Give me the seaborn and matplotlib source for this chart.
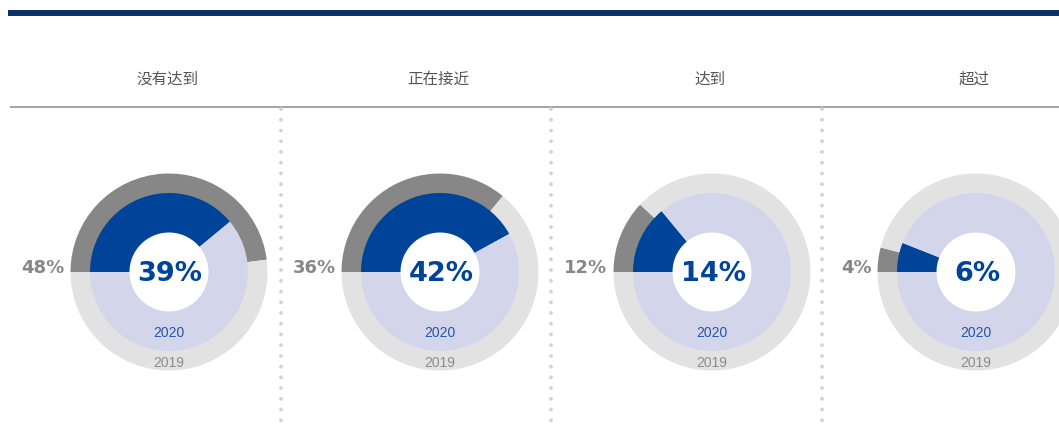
import matplotlib
matplotlib.use("Agg")
import matplotlib.pyplot as plt
import seaborn as sns

# data
categories = ["没有达到", "正在接近", "达到", "超过"]
share_2019 = [48, 36, 12, 4]
share_2020 = [39, 42, 14, 6]
year_labels = ["2019", "2020"]

# colours
NAVY = "#0b3068"
DARK_GRAY = "#878787"
LIGHT_GRAY = "#e2e2e2"
BLUE = "#00449a"
LAVENDER = "#d3d6ea"

W, H = 1059, 431
centers_x = [169, 440, 712, 976]
center_y = 273
R_OUTER, R_INNER, R_HOLE = 98.5, 79, 39.5


def draw_donut(ax, cx, v2019, v2020):
    # y axis is inverted (pixel coords), so counterclock=True runs clockwise on screen
    ax.pie([v2019, 100 - v2019], colors=[DARK_GRAY, LIGHT_GRAY], radius=R_OUTER,
           center=(cx, center_y), startangle=180, counterclock=True,
           wedgeprops=dict(linewidth=0))
    ax.pie([v2020, 100 - v2020], colors=[BLUE, LAVENDER], radius=R_INNER,
           center=(cx, center_y), startangle=180, counterclock=True,
           wedgeprops=dict(linewidth=0))
    ax.add_patch(plt.Circle((cx, center_y), R_HOLE, color="white", lw=0, zorder=3))

    ax.text(cx + 1, center_y + 1, f"{v2020}%", ha="center", va="center",
            fontsize=19.5, fontweight="bold", color=BLUE, zorder=4,
            family="DejaVu Sans")
    ax.text(cx - R_OUTER - 6, center_y - 5, f"{v2019}%", ha="right", va="center",
            fontsize=13, fontweight="bold", color=DARK_GRAY, family="DejaVu Sans")
    ax.text(cx, 333, year_labels[1], ha="center", va="center", fontsize=10,
            color="#2a55a5", family="Liberation Sans", zorder=4)
    ax.text(cx, 363, year_labels[0], ha="center", va="center", fontsize=10,
            color="#8c8c8c", family="Liberation Sans", zorder=4)


def main():
    sns.set_theme(style="white")
    plt.rcParams["font.family"] = ["Noto Sans CJK SC", "DejaVu Sans"]

    fig = plt.figure(figsize=(W / 100, H / 100), dpi=100)
    ax = fig.add_axes([0, 0, 1, 1])

    for cx, a, b in zip(centers_x, share_2019, share_2020):
        draw_donut(ax, cx, a, b)

    # headings
    for cx, cat in zip(centers_x, categories):
        ax.text(cx - 2, 79, cat, ha="center", va="center", fontsize=11.2,
                color="#555555")

    # top bar and header rule
    ax.plot([8, W], [14, 14], color=NAVY, lw=4.3, solid_capstyle="butt")
    ax.plot([10, W], [108, 108], color="#8a8a8a", lw=1.1, solid_capstyle="butt")

    # dotted separators
    for x in [281, 551, 822]:
        ax.plot([x, x], [110, H], color="#d3d3d3", lw=2.8,
                linestyle=(0, (0.01, 2.75)), dash_capstyle="round")

    ax.set_xlim(0, W)
    ax.set_ylim(H, 0)
    ax.set_aspect("equal")
    ax.axis("off")

    fig.savefig("out.png", dpi=100, facecolor="white")
    plt.close(fig)


if __name__ == "__main__":
    main()
